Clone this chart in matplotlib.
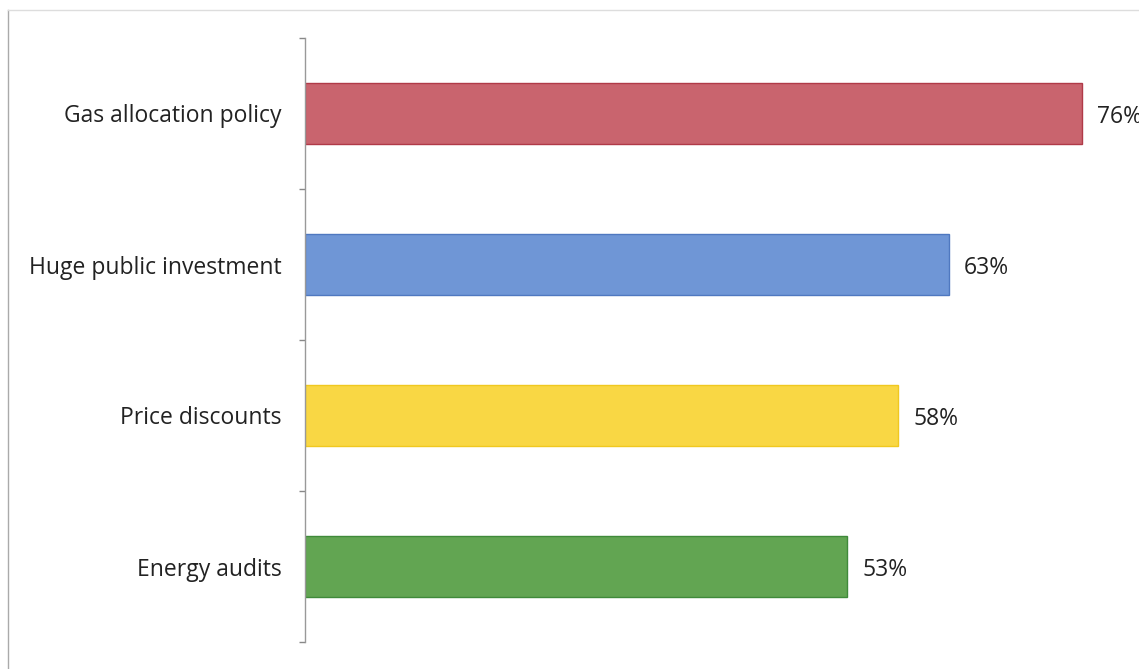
import matplotlib
matplotlib.use("Agg")
import matplotlib.pyplot as plt
from matplotlib.lines import Line2D
import numpy as np

# survey results, top to bottom
policies = ["Gas allocation policy", "Huge public investment", "Price discounts", "Energy audits"]
shares = [76, 63, 58, 53]
bar_colors = ["#c9646e", "#6f96d6", "#f9d744", "#62a552"]
edge_colors = ["#b03a48", "#4f78c0", "#f0c820", "#3f8a3a"]

plt.rcParams['font.family'] = ['Open Sans', 'DejaVu Sans']

fig = plt.figure(figsize=(11.39, 6.69), dpi=100)
ax = fig.add_axes([305 / 1139, 1 - 642 / 669, 1 - 305 / 1139, (642 - 38) / 669])

y = np.arange(len(policies))
bars = ax.barh(y, shares, height=0.4, color=bar_colors, edgecolor=edge_colors, linewidth=1.0)
for rect, v in zip(bars, shares):
    ax.text(v + 1.5, rect.get_y() + rect.get_height() / 2 + 0.02, f"{v}%",
            va="center", ha="left", fontsize=16.5, color="#222222")

ax.set_xlim(0, 81.6)
ax.set_ylim(len(policies) - 0.5, -0.5)
ax.set_yticks(y)
ax.set_yticklabels(policies, fontsize=16.5, color="#222222")
ax.set_yticks(np.arange(len(policies) + 1) - 0.5, minor=True)
ax.tick_params(axis="y", which="major", length=0, pad=17)
ax.tick_params(axis="y", which="minor", length=4, width=1, color="#888888", direction="out")
ax.set_xticks([])
for side in ["top", "right", "bottom"]:
    ax.spines[side].set_visible(False)
ax.spines["left"].set_color("#999999")
ax.spines["left"].set_linewidth(1.0)

# outer chart frame, left and top edges
fig.add_artist(Line2D([8 / 1139, 8 / 1139], [0, 1 - 10 / 669], transform=fig.transFigure,
                      color="#aaaaaa", linewidth=1.0))
fig.add_artist(Line2D([8 / 1139, 1], [1 - 10 / 669, 1 - 10 / 669], transform=fig.transFigure,
                      color="#dddddd", linewidth=1.0))

fig.savefig("out.png", dpi=100)
plt.close("all")
